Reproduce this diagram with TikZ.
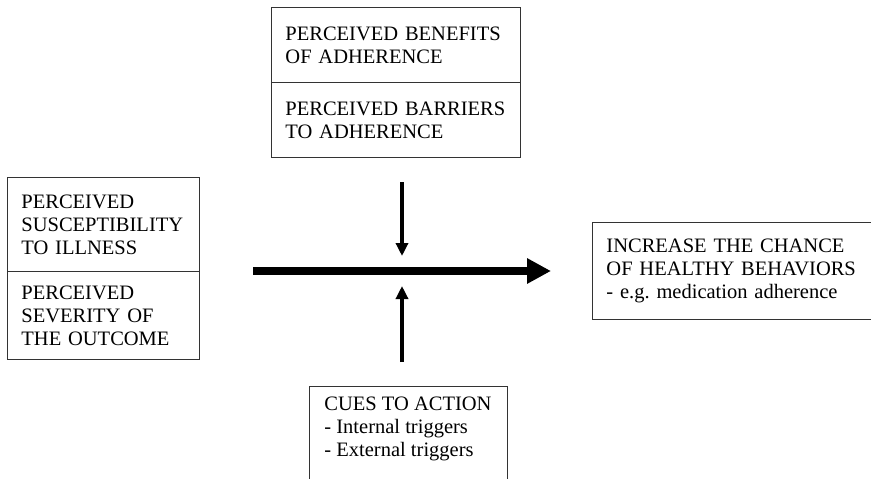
\documentclass[tikz,border=0pt]{standalone}
\usepackage{fontspec}
\setmainfont{Liberation Serif}
\usetikzlibrary{arrows.meta}
\tikzstyle{factor}=[draw=black!80, line width=0.9pt, anchor=north west, inner xsep=14pt, inner ysep=0pt, align=left, font=\fontsize{20.5}{23}\selectfont]
\tikzstyle{push}=[line width=4pt, -{Triangle[length=13pt,width=12pt]}]
\tikzstyle{flow}=[line width=8pt, -{Triangle[length=24pt,width=24pt]}]
\newcommand{\factor}{\node[factor]}

\begin{document}
\begin{tikzpicture}[x=1pt,y=-1pt]
\useasboundingbox (0,0) rectangle (871,479);
\clip (0,0) rectangle (871,479);

\factor[minimum width=192pt, minimum height=94pt, text width=164pt] (suscept) at (7,177) {PERCEIVED\\SUSCEPTIBILITY\\TO ILLNESS};
    \factor[minimum width=192pt, minimum height=88pt, text width=164pt] (severity) at (7,271) {PERCEIVED\\SEVERITY OF\\THE OUTCOME};
    \factor[minimum width=249pt, minimum height=75pt, text width=221pt] (benefits) at (271,7) {PERCEIVED BENEFITS\\OF ADHERENCE};
    \factor[minimum width=249pt, minimum height=75pt, text width=221pt] (barriers) at (271,82) {PERCEIVED BARRIERS\\TO ADHERENCE};
    \factor[minimum width=300pt, minimum height=97pt, text width=272pt] (chance) at (592,222) {INCREASE THE CHANCE\\OF HEALTHY BEHAVIORS\\- e.g.\ medication adherence};
    \factor[minimum width=198pt, minimum height=120pt] (cuesbox) at (309,386) {};
    \factor[draw=none, inner sep=0pt] (cues) at ([xshift=15pt,yshift=-10pt]cuesbox.north west) {CUES TO ACTION\\- Internal triggers\\- External triggers};
    ;
    \coordinate (flowstart) at (253,271);
    \coordinate (flowend) at (551,271);
    \coordinate (downstart) at (402,182);
    \coordinate (downend) at (402,256);
    \coordinate (upstart) at (402,362);
    \coordinate (upend) at (402,286);
    \draw[flow] (flowstart) -- (flowend);
    \draw[push] (downstart) -- (downend);
    \draw[push] (upstart) -- (upend);
\end{tikzpicture}
\end{document}
